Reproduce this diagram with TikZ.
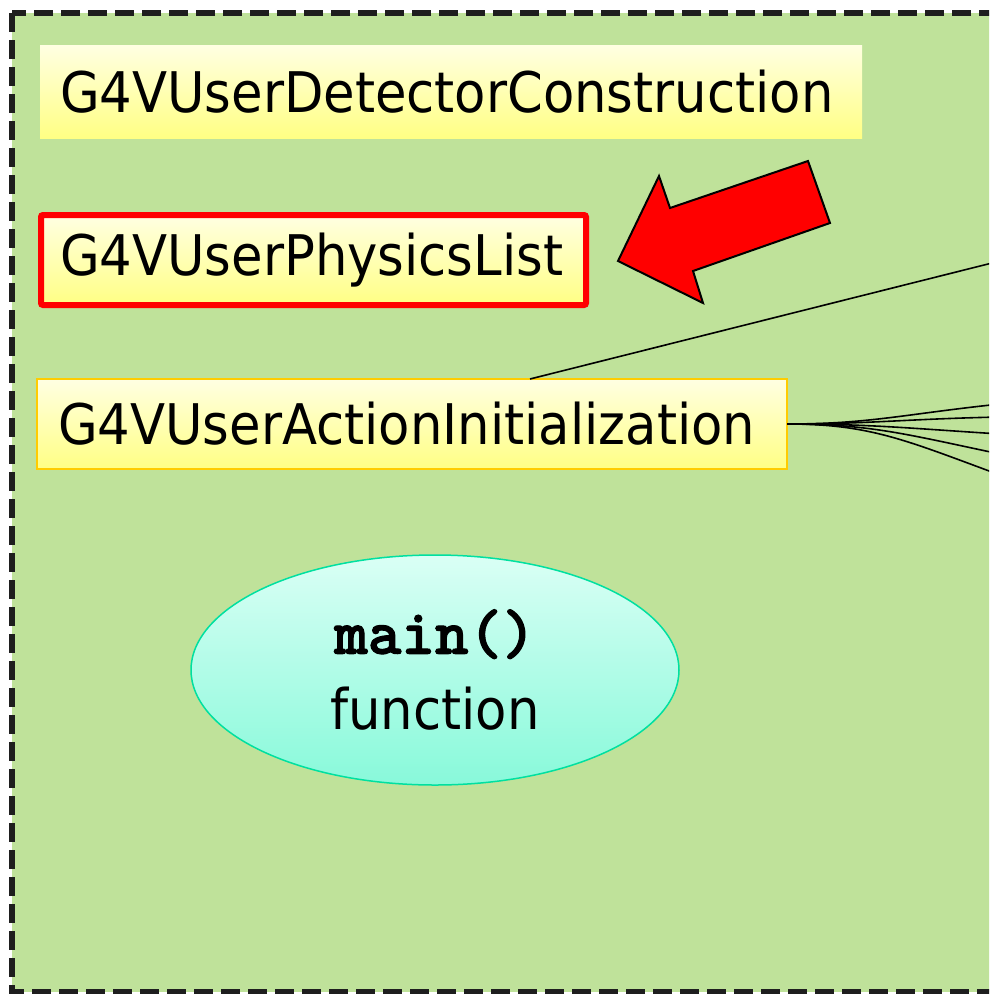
\documentclass[tikz,border=0pt]{standalone}
\usepackage{fontspec}
\setmainfont{DejaVu Sans}[FakeStretch=0.915]
\newfontfamily\codefont{lmmonolt10-bold}[Extension=.otf, FakeBold=1.6]
\usetikzlibrary{shapes.geometric}

\definecolor{panelgreen}{HTML}{BFE29A}
\definecolor{framegray}{HTML}{1E1E1E}
\definecolor{boxtop}{HTML}{FFFFE2}
\definecolor{boxbottom}{HTML}{FFFF84}
\definecolor{goldline}{HTML}{FFCC00}
\definecolor{ovaltop}{HTML}{DAFFF5}
\definecolor{ovalbottom}{HTML}{88F9DA}
\definecolor{ovalline}{HTML}{00E0A0}

\tikzset{
  classbox/.style={rectangle, top color=boxtop, bottom color=boxbottom,
    anchor=north west, outer sep=0pt, inner ysep=0pt, inner xsep=20pt,
    align=left, text=black, font=\fontsize{56}{60}\selectfont},
  redframe/.style={draw=red, line width=6pt, rounded corners=2pt},
  goldframe/.style={draw=goldline, line width=2pt},
  wire/.style={draw=black, line width=1.6pt},
}

\begin{document}
\begin{tikzpicture}[x=1pt, y=-1pt]
  \useasboundingbox (0,0) rectangle (989,994);
  \fill[white] (0,0) rectangle (989,994);
  \clip (0,0) rectangle (989,994);

  % dashed panel
  \draw[fill=panelgreen, draw=framegray, line width=6pt,
        dash pattern=on 19pt off 8pt]
    (12,13) rectangle (1200,992);

  % class boxes
  \node[classbox, text width=782pt, minimum height=93pt] (dc) at (40,45)
    {G4VUserDetectorConstruction};
  \node[classbox, redframe, text width=507pt, inner xsep=19pt, minimum height=90pt] (pl) at (41,215)
    {G4VUserPhysicsList};
  \node[classbox, goldframe, text width=708pt, inner xsep=21pt, minimum height=90pt] (ai) at (37,379)
    {G4VUserActionInitialization};

  % main() oval
  \node[ellipse, draw=ovalline, line width=1.5pt, top color=ovaltop, bottom color=ovalbottom,
        minimum width=488pt, minimum height=230pt, inner sep=0pt, align=center,
        font=\fontsize{56}{60}\selectfont] (mf) at (435,670)
    {{\codefont\fontsize{64}{60}\selectfont main()}\\[16pt]function};

  % highlight arrow
  \filldraw[fill=red, draw=black, line width=2pt, line join=miter]
    (618,261) -- (659,176) -- (670,208) -- (808,161) -- (830,223)
    -- (693,271) -- (703,303) -- cycle;

  % connectors leaving to the right
  \coordinate (up) at (1000,261);
  \coordinate (f1) at (1000,404);
  \coordinate (f2) at (1000,417);
  \coordinate (f3) at (1000,434);
  \coordinate (f4) at (1000,454);
  \coordinate (f5) at (1000,475);
  \draw[wire] ([xshift=118pt]ai.north) -- (up);
  \foreach \e/\c in {f1/414, f2/419, f3/428, f4/434, f5/440}{
    \draw[wire] (ai.east) .. controls (870,424) and (905,\c) .. (\e);
  }
\end{tikzpicture}
\end{document}
